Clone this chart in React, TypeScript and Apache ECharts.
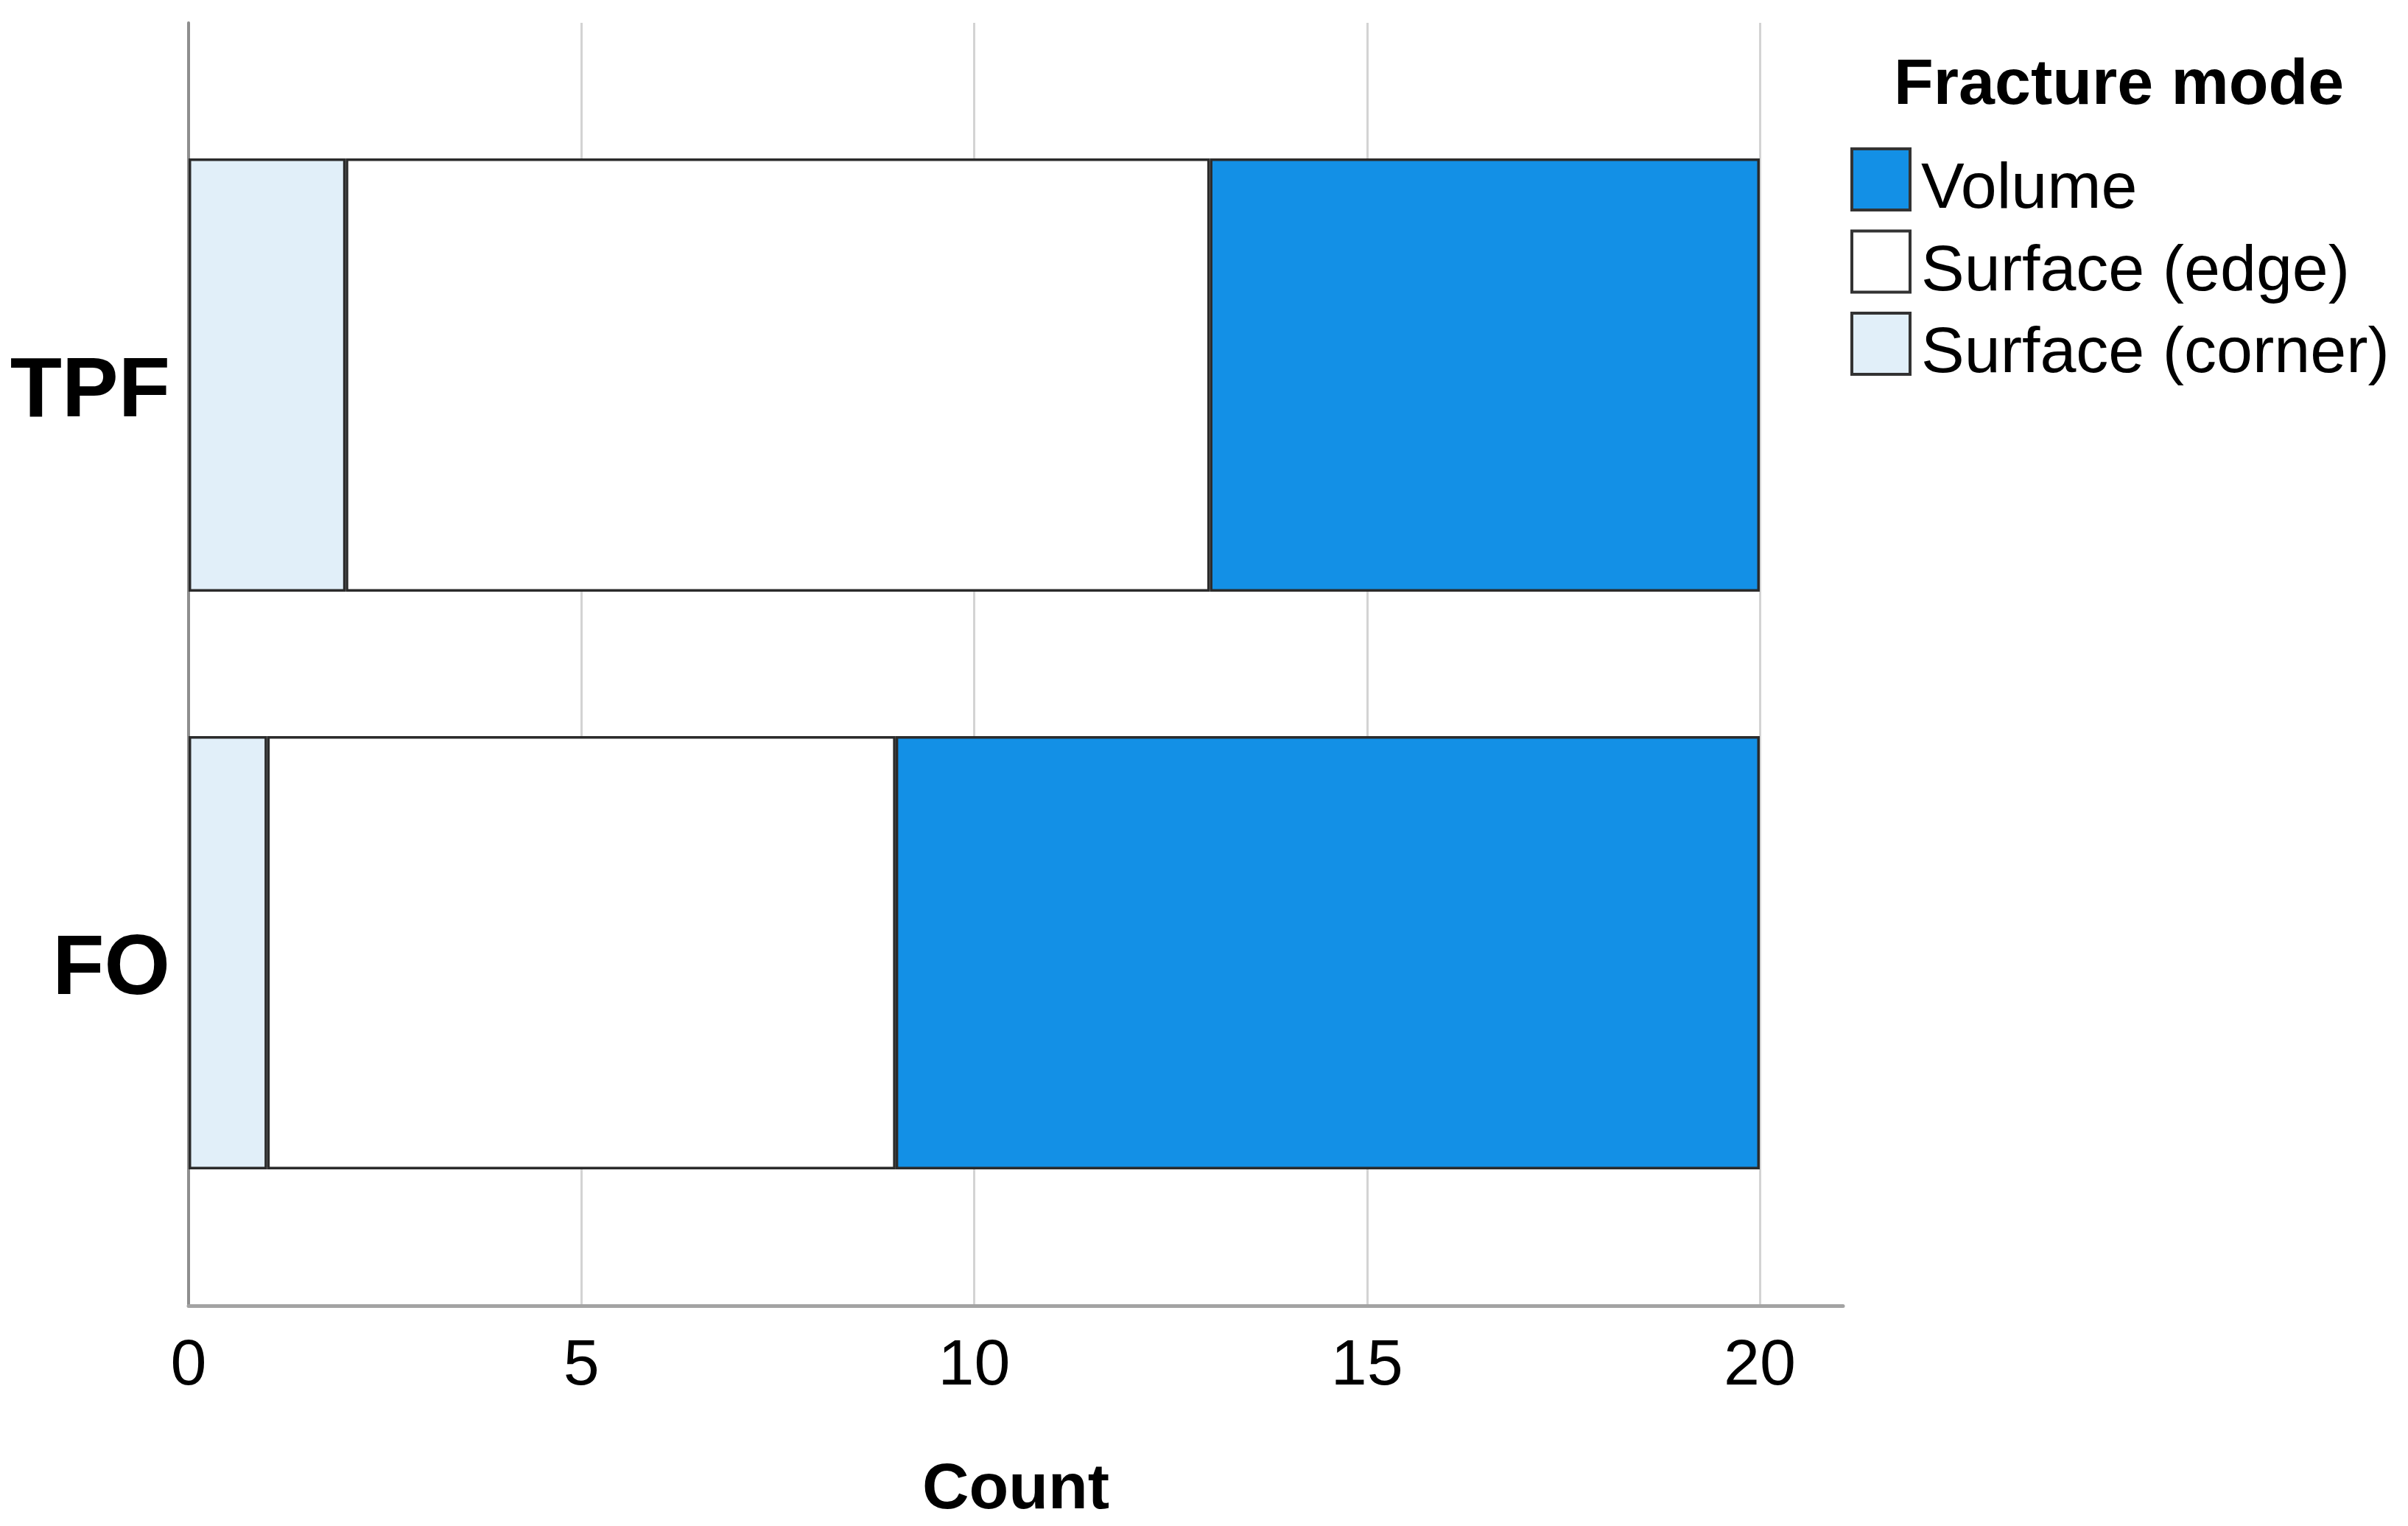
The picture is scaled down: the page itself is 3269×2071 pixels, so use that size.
import React, { useEffect, useRef } from "react";
import * as echarts from "echarts";

const categories = ["FO", "TPF"];
const cornerCounts = [1, 2];
const edgeCounts = [8, 11];
const volumeCounts = [11, 7];
const xMin = 0;
const xMax = 20;
const xInterval = 5;
const legendOrder = ["Volume", "Surface (edge)", "Surface (corner)"];

const FONT = "'Liberation Sans', Arial, Helvetica, sans-serif";

export default function App() {
  const ref = useRef<HTMLDivElement>(null);
  useEffect(() => {
    if (!ref.current) return;
    const chart = echarts.init(ref.current, undefined, { renderer: "svg" });
    const border = { borderColor: "#2b2b2b", borderWidth: 3.5 };
    const option: any = {
      animation: false,
      backgroundColor: "#ffffff",
      title: {
        text: "Fracture mode",
        left: 2571,
        top: 66,
        padding: 0,
        textStyle: { fontFamily: FONT, fontSize: 88, fontWeight: "bold", color: "#000" },
      },
      legend: {
        orient: "vertical",
        left: 2512,
        top: 200,
        padding: 0,
        itemWidth: 79,
        itemHeight: 83,
        itemGap: 16,
        icon: "rect",
        data: legendOrder,
        itemStyle: { borderColor: "#333333", borderWidth: 4 },
        formatter: "{a|{name}}",
        textStyle: {
          fontFamily: FONT,
          fontSize: 88,
          color: "#000",
          rich: {
            a: { fontFamily: FONT, fontSize: 88, color: "#000", padding: [16, 0, 0, 10] },
          },
        },
      },
      grid: [
        { left: 256, top: 31, width: 2133, height: 1741, containLabel: false },
        { left: 256, top: 31, width: 2246, height: 1741, containLabel: false },
        { left: 256, top: 117, width: 2133, height: 1568, containLabel: false },
      ],
      xAxis: [
        {
          gridIndex: 0,
          type: "value",
          min: xMin,
          max: xMax,
          interval: xInterval,
          axisLine: { show: false },
          axisTick: { show: false },
          splitLine: { show: true, lineStyle: { color: "#d3d3d3", width: 3 } },
          axisLabel: { fontFamily: FONT, fontSize: 88, color: "#000", margin: 32 },
        },
        {
          gridIndex: 1,
          type: "value",
          min: 0,
          max: 1,
          axisLine: { show: true, lineStyle: { color: "#a3a3a3", width: 5 } },
          axisTick: { show: false },
          axisLabel: { show: false },
          splitLine: { show: false },
          name: "Count",
          nameLocation: "middle",
          nameGap: 200,
          nameTextStyle: { fontFamily: FONT, fontSize: 88, fontWeight: "bold", color: "#000" },
        },
        {
          gridIndex: 2,
          type: "value",
          min: xMin,
          max: xMax,
          show: false,
        },
      ],
      yAxis: [
        {
          gridIndex: 0,
          type: "value",
          min: 0,
          max: 1,
          axisLine: { show: true, lineStyle: { color: "#8e8e8e", width: 4 } },
          axisTick: { show: false },
          axisLabel: { show: false },
          splitLine: { show: false },
        },
        { gridIndex: 1, type: "value", min: 0, max: 1, show: false },
        {
          gridIndex: 2,
          type: "category",
          data: categories,
          axisLine: { show: false },
          axisTick: { show: false },
          splitLine: { show: false },
          axisLabel: {
            margin: 25,
            formatter: "{a|{value}}",
            rich: {
              a: {
                fontFamily: FONT,
                fontSize: 115,
                fontWeight: "bold",
                color: "#000",
                padding: [32, 0, 0, 0],
              },
            },
          },
        },
      ],
      series: [
        {
          name: "Surface (corner)",
          type: "bar",
          stack: "total",
          xAxisIndex: 2,
          yAxisIndex: 2,
          barWidth: "75%",
          data: cornerCounts,
          itemStyle: { color: "#e1eff9", ...border },
        },
        {
          name: "Surface (edge)",
          type: "bar",
          stack: "total",
          xAxisIndex: 2,
          yAxisIndex: 2,
          barWidth: "75%",
          data: edgeCounts,
          itemStyle: { color: "#ffffff", ...border },
        },
        {
          name: "Volume",
          type: "bar",
          stack: "total",
          xAxisIndex: 2,
          yAxisIndex: 2,
          barWidth: "75%",
          data: volumeCounts,
          itemStyle: { color: "#1390e6", ...border },
        },
      ],
    };
    chart.setOption(option);
    return () => chart.dispose();
  }, []);
  return (
    <div
      ref={ref}
      style={{ position: "fixed", left: 0, top: 0, width: 3269, height: 2071, background: "#fff" }}
    />
  );
}
